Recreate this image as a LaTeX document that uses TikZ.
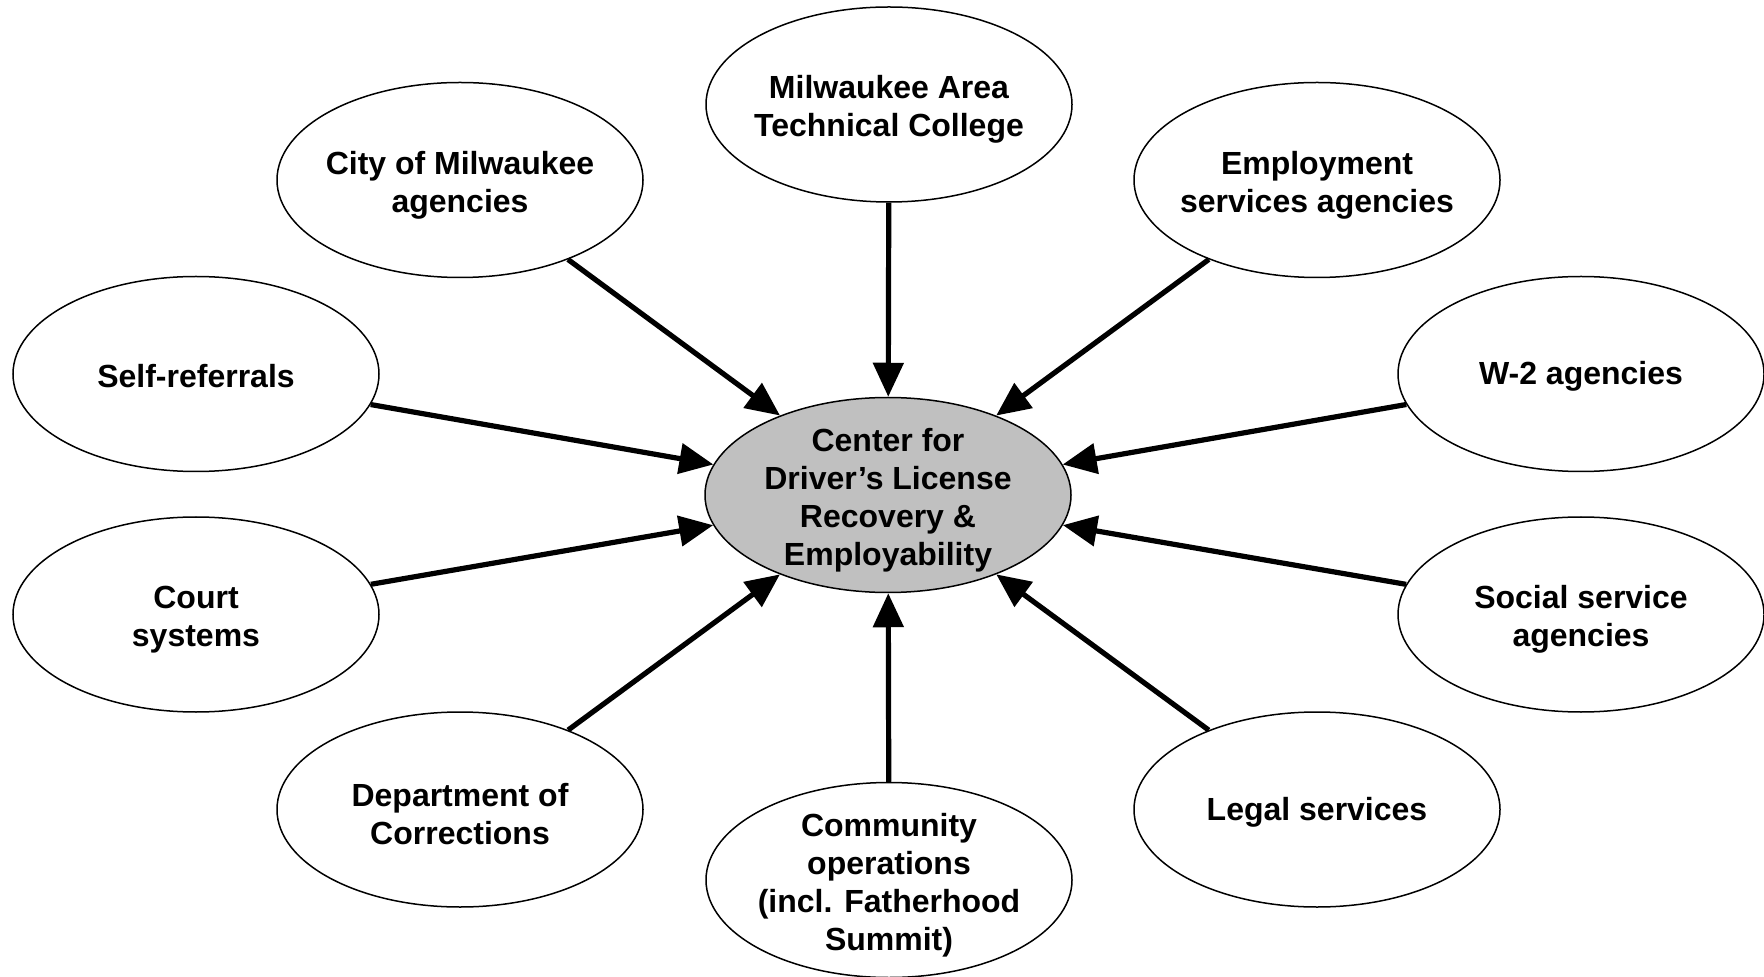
\documentclass[tikz,border=0pt]{standalone}
\usepackage{fontspec}
\setmainfont{Liberation Sans}
\usetikzlibrary{shapes.geometric,arrows.meta}
\definecolor{centergray}{RGB}{192,192,192}
\begin{document}
\begin{tikzpicture}[x=0.5pt,y=-0.5pt,
  bubble/.style={draw=black, line width=0.75pt, ellipse, minimum width=183pt, minimum height=97.5pt, inner sep=0pt},
  hub/.style={bubble, fill=centergray},
  txt/.style={align=center, inner sep=0pt, yshift=-2.5pt, font=\fontsize{16}{19}\selectfont\bfseries},
  txtone/.style={txt, yshift=1.3pt},
  feed/.style={line width=2.6pt, -{Triangle[length=17pt,width=15pt]}}]
\useasboundingbox (0,0) rectangle (1764,977);
\node[hub] (c) at (888,495) {};
\node[bubble] (matc) at (889,104.5) {};
\node[bubble] (city) at (460,180) {};
\node[bubble] (emp) at (1317,180) {};
\node[bubble] (self) at (196,374) {};
\node[bubble] (w2) at (1581,374) {};
\node[bubble] (court) at (196,614.5) {};
\node[bubble] (social) at (1581,614.5) {};
\node[bubble] (doc) at (460,809.5) {};
\node[bubble] (legal) at (1317,809.5) {};
\node[bubble] (comm) at (889,880) {};
\node[txt] (c-t) at (c) {Center for\\Driver’s License\\Recovery \&\\Employability};
\node[txt] (matc-t) at (matc) {Milwaukee Area\\Technical College};
\node[txt] (city-t) at (city) {City of Milwaukee\\agencies};
\node[txt] (emp-t) at (emp) {Employment\\services agencies};
\node[txtone] (self-t) at (self) {Self-referrals};
\node[txtone] (w2-t) at (w2) {W-2 agencies};
\node[txt] (court-t) at (court) {Court\\systems};
\node[txt] (social-t) at (social) {Social service\\agencies};
\node[txt] (doc-t) at (doc) {Department of\\Corrections};
\node[txtone] (legal-t) at (legal) {Legal services};
\node[txt] (comm-t) at (comm) {Community\\operations\\(incl. Fatherhood\\Summit)};
\foreach \s in {matc,city,emp,self,w2,court,social,doc,legal,comm}
  \draw[feed] (\s) -- (c);
\end{tikzpicture}
\end{document}
